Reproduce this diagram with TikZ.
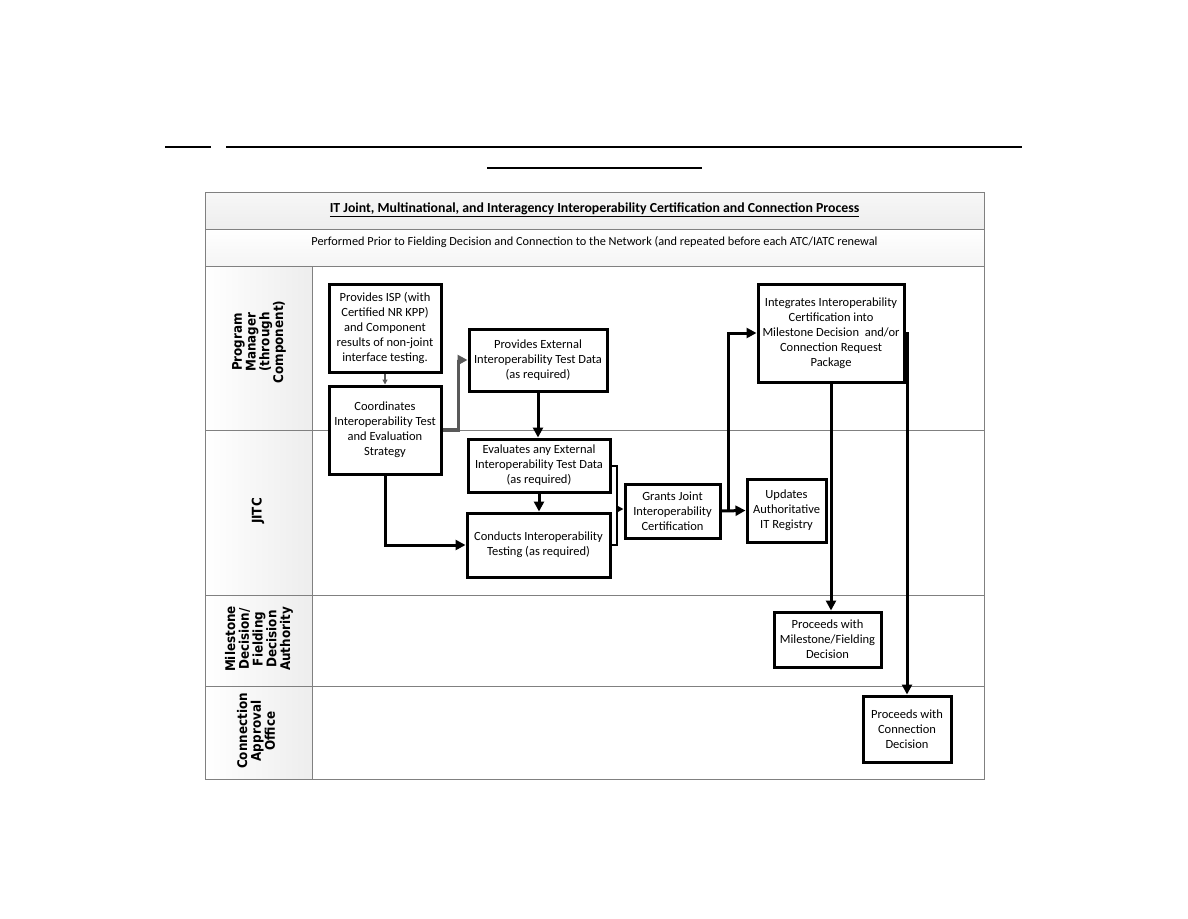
\documentclass[tikz,border=0pt]{standalone}
\usepackage{fontspec}
\setmainfont{Carlito}
\newfontfamily\lanefont[FakeStretch=0.9]{DejaVu Sans}
\usetikzlibrary{arrows.meta,calc}
\begin{document}
\begin{tikzpicture}[x=1pt,y=-1pt,
  box/.style={draw=black,line width=3pt,fill=white,align=center,inner sep=1pt,
    font=\fontsize{12.5}{15}\selectfont},
  conn/.style={line width=3pt,-{Triangle[length=10pt,width=10pt]}},
  thin/.style={line width=2pt,-{Triangle[length=7pt,width=7pt]}},
  garr/.style={draw=black!65,line width=3.5pt,-{Triangle[length=10pt,width=10pt]}},
  lane/.style={rotate=90,align=center,font=\lanefont\bfseries\fontsize{13.3}{13.8}\selectfont},
  grid/.style={draw=black!50,line width=1pt},
  topline/.style={line width=1.5pt}]
\useasboundingbox (0,0) rectangle (1188,918);
% top lines
\draw[topline] (165,147) -- (211,147);
\draw[topline] (226,147) -- (1022,147);
\draw[topline] (487,168) -- (702,168);
% frame backgrounds
\shade[top color=gray!6,bottom color=gray!14] (205,192) rectangle (984,229);
\shade[top color=white,bottom color=gray!8] (205,229) rectangle (984,266);
\shade[left color=white,right color=gray!14] (205,266) rectangle (312,779);
\draw[grid] (205,192) rectangle (984,779);
\draw[grid] (205,229) -- (984,229);
\draw[grid] (205,266) -- (984,266);
\draw[grid] (205,430) -- (984,430);
\draw[grid] (205,595) -- (984,595);
\draw[grid] (205,686) -- (984,686);
\draw[grid] (312,266) -- (312,779);
% header texts
\node[font=\bfseries\fontsize{13.8}{16}\selectfont] (title) at (594.5,210)
  {\underline{IT Joint, Multinational, and Interagency Interoperability Certification and Connection Process}};
\node[font=\fontsize{12.3}{15}\selectfont] (sub) at (594.5,242)
  {Performed Prior to Fielding Decision and Connection to the Network (and repeated before each ATC/IATC renewal};
% lane labels
\node[lane] (l1) at (259,342) {Program\\Manager\\(through\\Component)};
\node[lane] (l2) at (258,511) {JITC};
\node[lane] (l3) at (259,639) {Milestone\\Decision/\\Fielding\\Decision\\Authority};
\node[lane] (l4) at (256,731) {Connection\\Approval\\Office};
% boxes
\node[box,minimum width=112pt,minimum height=88pt] (isp) at (385,328)
  {Provides ISP (with\\Certified NR KPP)\\and Component\\results of non-joint\\interface testing.};
\node[box,minimum width=112pt,minimum height=88pt] (coord) at (385,430)
  {Coordinates\\Interoperability Test\\and Evaluation\\Strategy};
\node[box,minimum width=138pt,minimum height=62pt] (pext) at (538,360)
  {Provides External\\Interoperability Test Data\\(as required)};
\node[box,minimum width=142pt,minimum height=53pt] (eval) at (539,465.5)
  {Evaluates any External\\Interoperability Test Data\\(as required)};
\node[box,minimum width=143pt,minimum height=64pt] (cond) at (538.5,545)
  {Conducts Interoperability\\Testing (as required)};
\node[box,minimum width=95pt,minimum height=54pt] (grant) at (672.5,511)
  {Grants Joint\\Interoperability\\Certification};
\node[box,minimum width=79pt,minimum height=63pt] (upd) at (786.5,510.5)
  {Updates\\Authoritative\\IT Registry};
\node[box,minimum width=146pt,minimum height=98pt] (integ) at (831,333)
  {Integrates Interoperability\\Certification into\\Milestone Decision\ \ and/or\\Connection Request\\Package};
\node[box,minimum width=107pt,minimum height=55pt] (mile) at (827.5,639.5)
  {Proceeds with\\Milestone/Fielding\\Decision};
\node[box,minimum width=88pt,minimum height=66pt] (connb) at (907,729)
  {Proceeds with\\Connection\\Decision};
% connectors
\draw[draw=black!65,line width=1.2pt,-{Triangle[length=5pt,width=5pt]}] (isp.south) -- (coord.north);
\draw[garr] (coord.east) -- ++(16,0) |- (pext.west);
\draw[conn] (pext.south) -- (pext.south |- eval.north);
\draw[conn] (eval.south) -- (eval.south |- cond.north);
\draw[conn] (coord.south) |- (cond.west);
\coordinate (j) at (617,509);
\draw[line width=2pt] (eval.east) -| (j);
\draw[line width=2pt] (cond.east) -| (j);
\draw[thin] (j) -- (grant.west |- j);
\draw[conn] (grant.east) -- (upd.west);
\coordinate (br) at (728,510.5);
\draw[conn] (br) |- (integ.west);
\draw[conn] (integ.south) -- (integ.south |- mile.north);
\draw[conn] (integ.east) -| (connb.north);
\end{tikzpicture}
\end{document}
